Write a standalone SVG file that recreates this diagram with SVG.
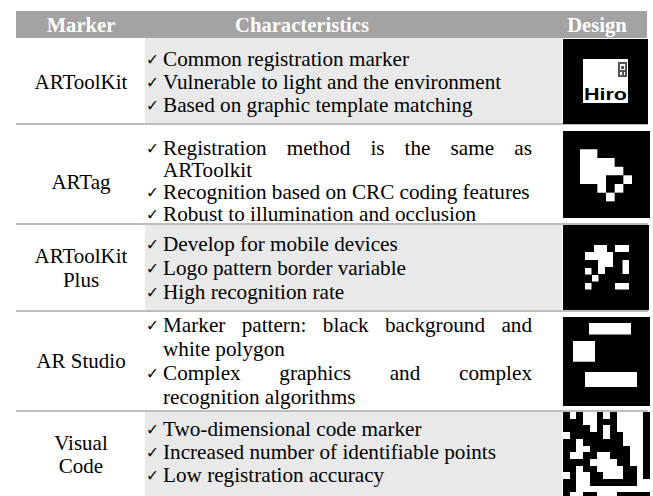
<svg xmlns="http://www.w3.org/2000/svg" width="653" height="496" viewBox="0 0 653 496">
<style>
.hd{font-family:"Liberation Serif","Times New Roman",serif;font-weight:bold;font-size:20.6px;fill:#fff;text-anchor:middle}
.lb{font-family:"Liberation Serif","Times New Roman",serif;font-size:21px;fill:#000;text-anchor:middle}
.tx{font-family:"Liberation Serif","Times New Roman",serif;font-size:21.2px;fill:#000}
.ck{font-family:"DejaVu Sans",sans-serif;font-size:15.5px;fill:#000}
.e{text-anchor:end}
.sh{fill:#e9e9e9}
.sep{stroke:#bdbdbd;stroke-width:2}
.blk{fill:#000}
.wh{fill:#fff}
.px{shape-rendering:crispEdges}
</style>
<rect width="653" height="496" fill="#fff"/>
<g id="header">
<rect x="16" y="11" width="631" height="27" fill="#a3a3a3"/>
<text class="hd" x="81" y="32">Marker</text>
<text class="hd" x="302" y="32">Characteristics</text>
<text class="hd" x="597" y="32">Design</text>
</g>
<g id="shading">
<rect class="sh" x="145" y="38" width="417" height="86"/>
<rect class="sh" x="145" y="224" width="417" height="87"/>
<rect class="sh" x="145" y="411" width="417" height="85"/>
</g>
<g id="separators">
<line class="sep" x1="16" y1="124" x2="648" y2="124"/>
<line class="sep" x1="16" y1="224" x2="648" y2="224"/>
<line class="sep" x1="16" y1="311" x2="648" y2="311"/>
<line class="sep" x1="16" y1="411" x2="648" y2="411"/>
</g>
<g id="row-artoolkit">
<text class="lb" x="81" y="89">ARToolKit</text>
<text class="ck" x="146" y="65">✓</text><text class="tx" x="163" y="66">Common registration marker</text>
<text class="ck" x="146" y="88">✓</text><text class="tx" x="163" y="89">Vulnerable to light and the environment</text>
<text class="ck" x="146" y="111">✓</text><text class="tx" x="163" y="112">Based on graphic template matching</text>
<g id="design-hiro">
<rect class="blk" x="563" y="39" width="85" height="85"/>
<rect class="wh" x="583" y="59" width="45" height="44"/>
<g fill="#555" class="px">
<rect x="618" y="62" width="9" height="2"/><rect x="618" y="64" width="2" height="12"/><rect x="625" y="64" width="2" height="12"/>
<rect x="618" y="75" width="9" height="2"/><rect x="621" y="66" width="3" height="3"/><rect x="620" y="70" width="5" height="2"/><rect x="622" y="72" width="2" height="3"/>
</g>
<text x="605.5" y="99.5" font-family="Liberation Sans,Arial,sans-serif" font-weight="bold" font-size="17" text-anchor="middle" textLength="43" lengthAdjust="spacingAndGlyphs">Hiro</text>
</g>
</g>
<g id="row-artag">
<text class="lb" x="81" y="189">ARTag</text>
<text class="ck" x="146" y="154">✓</text>
<text class="tx" y="155"><tspan x="163">Registration</tspan><tspan x="286.7">method</tspan><tspan x="370.4">is</tspan><tspan x="404.6">the</tspan><tspan x="450.6">same</tspan></text>
<text class="tx e" x="532" y="155">as</text>
<text class="tx" x="163" y="177">ARToolkit</text>
<text class="ck" x="146" y="198">✓</text><text class="tx" x="163" y="199">Recognition based on CRC coding features</text>
<text class="ck" x="146" y="220">✓</text><text class="tx" x="163" y="221">Robust to illumination and occlusion</text>
<g id="design-artag">
<rect class="blk" x="563" y="131" width="87" height="87"/>
<g class="wh" transform="translate(580,149.3) scale(8.67)">
<polygon points="0,0 2,0 2,1 4,1 4,2 5,2 5,3 3,3 3,5 2,5 2,4 0,4"/>
<rect x="5" y="3" width="1" height="1"/>
<rect x="4" y="4" width="1" height="1"/>
<rect x="3" y="5" width="1" height="1"/>
</g>
</g>
</g>
<g id="row-artoolkitplus">
<text class="lb" x="81" y="263">ARToolKit</text>
<text class="lb" x="81" y="287">Plus</text>
<text class="ck" x="146" y="250">✓</text><text class="tx" x="163" y="251">Develop for mobile devices</text>
<text class="ck" x="146" y="274">✓</text><text class="tx" x="163" y="275">Logo pattern border variable</text>
<text class="ck" x="146" y="298">✓</text><text class="tx" x="163" y="299">High recognition rate</text>
<g id="design-artoolkitplus">
<rect class="blk" x="563" y="225" width="86" height="85"/>
<g class="wh">
<rect x="615" y="245" width="14" height="7"/>
<rect x="622.5" y="260" width="6.5" height="14"/>
<rect x="615" y="283" width="14" height="6.5"/>
<rect x="585" y="268" width="6.5" height="6.5"/>
<rect x="592" y="275" width="6.5" height="6.5"/>
<rect x="585" y="283" width="6.5" height="6.5"/>
<polygon points="594,245 607,245 607,252 613,252 613,267 605,267 605,274 598,274 598,260 585,260 585,252 594,252"/>
</g>
</g>
</g>
<g id="row-arstudio">
<text class="lb" x="81" y="368">AR Studio</text>
<text class="ck" x="146" y="331">✓</text>
<text class="tx" y="332"><tspan x="163">Marker</tspan><tspan x="241.7">pattern:</tspan><tspan x="322.8">black</tspan><tspan x="385">background</tspan></text>
<text class="tx e" x="532" y="332">and</text>
<text class="tx" x="163" y="356">white polygon</text>
<text class="ck" x="146" y="379">✓</text>
<text class="tx" y="380"><tspan x="163">Complex</tspan><tspan x="279.3">graphics</tspan><tspan x="389.7">and</tspan></text>
<text class="tx e" x="532" y="380">complex</text>
<text class="tx" x="163" y="404">recognition algorithms</text>
<g id="design-arstudio">
<rect class="blk" x="563" y="317" width="87" height="89"/>
<rect class="wh" x="589" y="323" width="42" height="11.5"/>
<rect class="wh" x="573" y="341" width="22" height="20.7"/>
<rect class="wh" x="585" y="372" width="52" height="15"/>
</g>
</g>
<g id="row-visualcode">
<text class="lb" x="81" y="450">Visual</text>
<text class="lb" x="81" y="473">Code</text>
<text class="ck" x="146" y="435">✓</text><text class="tx" x="163" y="436">Two-dimensional code marker</text>
<text class="ck" x="146" y="458">✓</text><text class="tx" x="163" y="459">Increased number of identifiable points</text>
<text class="ck" x="146" y="481">✓</text><text class="tx" x="163" y="482">Low registration accuracy</text>
<g id="design-visualcode">
<rect class="wh" x="563" y="412" width="87" height="84"/>
<g class="blk px" transform="translate(563,412) scale(6.7)">
<rect x="0" y="0" width="1" height="1"/><rect x="2" y="0" width="1" height="1"/><rect x="5" y="0" width="1" height="1"/><rect x="7" y="0" width="1" height="1"/>
<rect x="0" y="1" width="3" height="1"/><rect x="5" y="1" width="3" height="1"/>
<rect x="0" y="2" width="4" height="1"/><rect x="5" y="2" width="1" height="1"/><rect x="7" y="2" width="1" height="1"/>
<rect x="1" y="3" width="5" height="1"/><rect x="7" y="3" width="2" height="1"/>
<rect x="0" y="4" width="2" height="1"/><rect x="3" y="4" width="6" height="1"/>
<rect x="0" y="5" width="2" height="1"/><rect x="4" y="5" width="6" height="1"/>
<rect x="0" y="6" width="1" height="1"/><rect x="3" y="6" width="2" height="1"/><rect x="7" y="6" width="3" height="1"/>
<rect x="0" y="7" width="4" height="1"/><rect x="8" y="7" width="2" height="1"/>
<rect x="0" y="8" width="2" height="1"/><rect x="3" y="8" width="2" height="1"/><rect x="9" y="8" width="2" height="1"/>
<rect x="1" y="9" width="1" height="1"/><rect x="4" y="9" width="2" height="1"/><rect x="9" y="9" width="2" height="1"/>
<rect x="0" y="10" width="2" height="1"/><rect x="4" y="10" width="7" height="1"/>
<rect x="0" y="11" width="2" height="1"/>
<rect x="0" y="12" width="1" height="1"/><rect x="3" y="12" width="2" height="1"/><rect x="8" y="12" width="5" height="1"/>
<rect x="12" y="0" width="1" height="10"/>
</g>
</g>
</g>
</svg>
